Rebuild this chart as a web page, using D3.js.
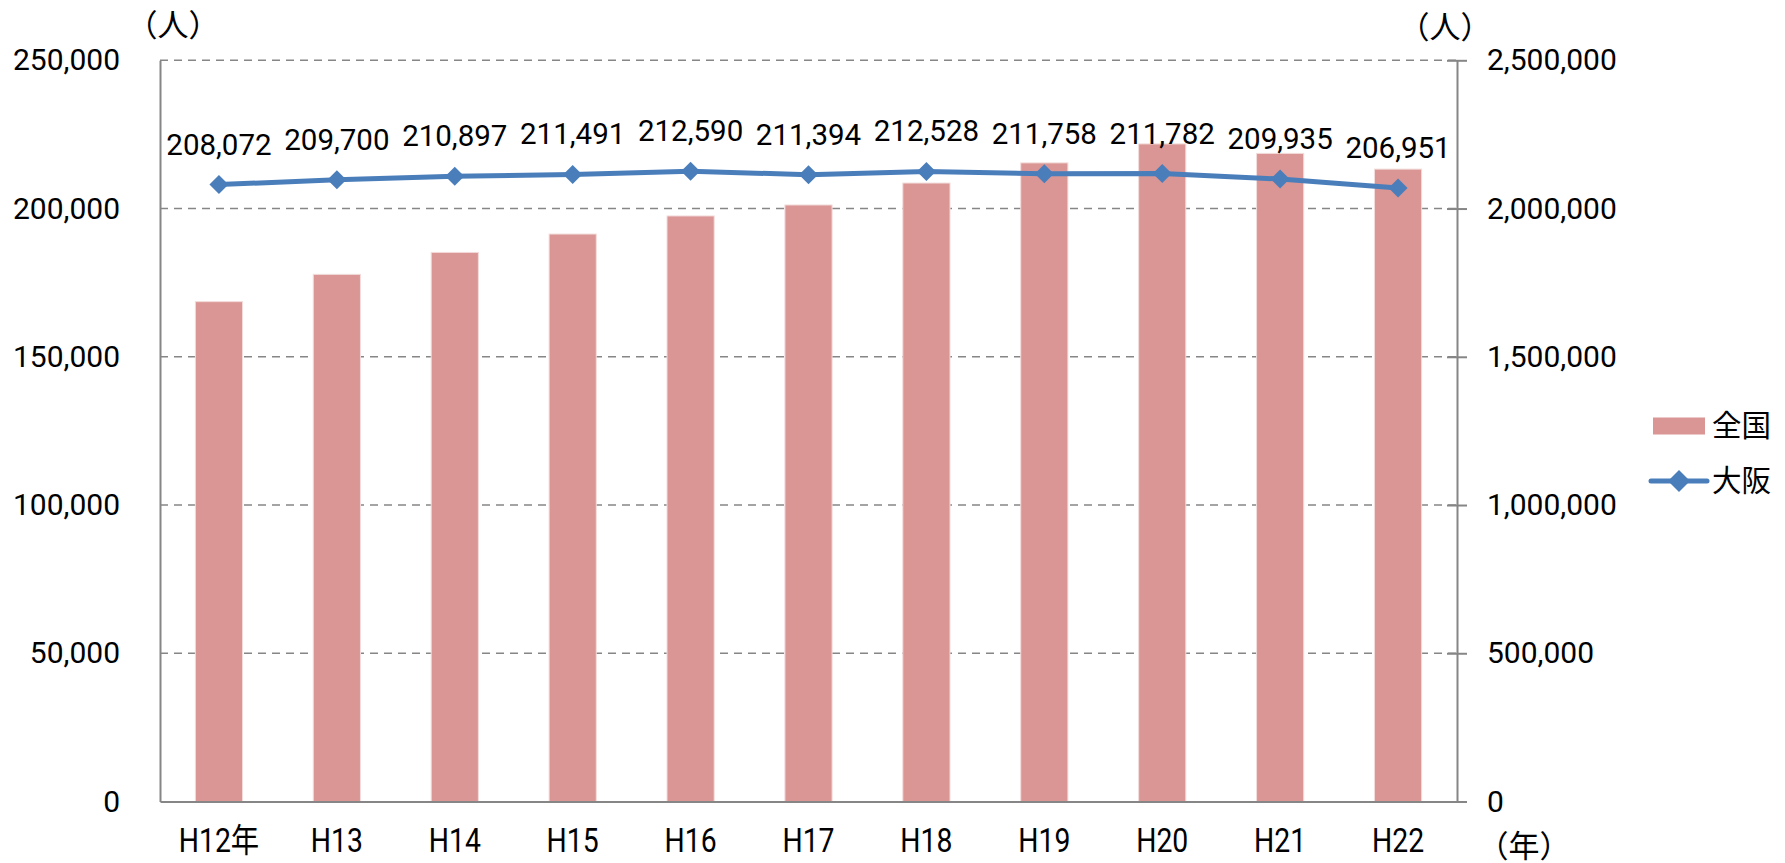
<!DOCTYPE html>
<html>
<head>
<meta charset="utf-8">
<script src="https://cdn.jsdelivr.net/npm/d3@7"></script>
<style>
  body { margin: 0; background: #fff; }
  text { font-family: Roboto, "Noto Sans CJK JP", sans-serif; fill: #000; }
</style>
</head>
<body>
<div id="chart"></div>
<script>
// data
var years = ["H12年", "H13", "H14", "H15", "H16", "H17", "H18", "H19", "H20", "H21", "H22"];
var zenkoku = [1686000, 1778000, 1852000, 1914000, 1975000, 2012000, 2086000, 2154000, 2218000, 2186000, 2133000];
var osaka = [208072, 209700, 210897, 211491, 212590, 211394, 212528, 211758, 211782, 209935, 206951];
var leftTicks = [0, 50000, 100000, 150000, 200000, 250000];
var rightTicks = [0, 500000, 1000000, 1500000, 2000000, 2500000];
var seriesNames = ["全国", "大阪"];

var svgWidth = 1785;
var svgHeight = 863;
var plot = { left: 160, right: 1457, top: 60.3, bottom: 801.5 };

var barColor = "#D99694";
var lineColor = "#4A7EBB";
var axisColor = "#868686";

var svg = d3.select("#chart")
  .append("svg")
  .attr("width", svgWidth)
  .attr("height", svgHeight);
svg.append("rect")
  .attr("width", "100%")
  .attr("height", "100%")
  .attr("fill", "white");

// scales
var xScale = d3.scaleBand()
  .domain(years)
  .range([plot.left, plot.right])
  .paddingInner(0.6)
  .paddingOuter(0.3);

var yLeft = d3.scaleLinear()
  .domain([0, 250000])
  .range([plot.bottom, plot.top]);

var yRight = d3.scaleLinear()
  .domain([0, 2500000])
  .range([plot.bottom, plot.top]);

var fmt = d3.format(",");
var diamond = function(r) { return "M0," + (-r) + "L" + r + ",0L0," + r + "L" + (-r) + ",0Z"; };

// gridlines
svg.append("g")
  .selectAll("line")
  .data(leftTicks.filter(d => d > 0))
  .enter()
  .append("line")
  .attr("x1", plot.left)
  .attr("x2", plot.right)
  .attr("y1", d => yLeft(d))
  .attr("y2", d => yLeft(d))
  .attr("stroke", axisColor)
  .attr("stroke-width", 1.5)
  .attr("stroke-dasharray", "8,6");

// bars (全国, right axis)
svg.append("g")
  .selectAll("rect")
  .data(zenkoku)
  .enter()
  .append("rect")
  .attr("x", (d, i) => xScale(years[i]))
  .attr("width", xScale.bandwidth())
  .attr("y", d => yRight(d))
  .attr("height", d => yRight(0) - yRight(d))
  .attr("fill", barColor)
  .attr("stroke", "#F2DCDB")
  .attr("stroke-width", 1);

// axes
var leftAxis = svg.append("g")
  .attr("transform", `translate(${plot.left},0)`)
  .call(d3.axisLeft(yLeft).tickValues(leftTicks).tickSize(0).tickPadding(40).tickFormat(fmt));

var rightAxis = svg.append("g")
  .attr("transform", `translate(${plot.right},0)`)
  .call(d3.axisRight(yRight).tickValues(rightTicks).tickSizeInner(10).tickSizeOuter(0).tickPadding(20).tickFormat(fmt));
rightAxis.selectAll(".tick line").attr("x1", -10);

var bottomAxis = svg.append("g")
  .attr("transform", `translate(0,${plot.bottom})`)
  .call(d3.axisBottom(xScale).tickSize(0).tickPadding(27));

[leftAxis, rightAxis, bottomAxis].forEach(function(g) {
  g.select(".domain").attr("stroke", axisColor).attr("stroke-width", 2);
  g.selectAll(".tick line").attr("stroke", axisColor).attr("stroke-width", 2);
  g.selectAll("text").attr("font-family", null).attr("font-size", null);
});
leftAxis.selectAll("text").style("font-size", "30px");
rightAxis.selectAll("text").style("font-size", "30px");
bottomAxis.selectAll("text")
  .style("font-size", "33px")
  .attr("transform", "scale(0.86,1)");

// line (大阪, left axis)
var line = d3.line()
  .x((d, i) => xScale(years[i]) + xScale.bandwidth() / 2)
  .y(d => yLeft(d));

svg.append("path")
  .datum(osaka)
  .attr("d", line)
  .attr("fill", "none")
  .attr("stroke", lineColor)
  .attr("stroke-width", 5)
  .attr("stroke-linejoin", "round");

svg.append("g")
  .selectAll("path")
  .data(osaka)
  .enter()
  .append("path")
  .attr("d", diamond(9.5))
  .attr("transform", (d, i) => `translate(${xScale(years[i]) + xScale.bandwidth() / 2},${yLeft(d)})`)
  .attr("fill", lineColor);

// data labels
svg.append("g")
  .selectAll("text")
  .data(osaka)
  .enter()
  .append("text")
  .attr("x", (d, i) => xScale(years[i]) + xScale.bandwidth() / 2)
  .attr("y", d => yLeft(d) - 30)
  .attr("text-anchor", "middle")
  .style("font-size", "29.5px")
  .text(d => fmt(d));

// unit labels
svg.append("text")
  .attr("x", 173).attr("y", 25)
  .attr("text-anchor", "middle")
  .attr("dominant-baseline", "central")
  .style("font-size", "31px")
  .text("（人）");
svg.append("text")
  .attr("x", 1445).attr("y", 27)
  .attr("text-anchor", "middle")
  .attr("dominant-baseline", "central")
  .style("font-size", "31px")
  .text("（人）");
svg.append("text")
  .attr("x", 1524).attr("y", 846)
  .attr("text-anchor", "middle")
  .attr("dominant-baseline", "central")
  .style("font-size", "31px")
  .text("（年）");

// legend
var legend = svg.append("g").attr("transform", "translate(1651,426)");
legend.append("rect")
  .attr("x", 2).attr("y", -8.5)
  .attr("width", 52).attr("height", 17)
  .attr("fill", barColor);
legend.append("line")
  .attr("x1", 0).attr("x2", 56)
  .attr("y1", 55).attr("y2", 55)
  .attr("stroke", lineColor)
  .attr("stroke-width", 5)
  .attr("stroke-linecap", "round");
legend.append("path")
  .attr("d", diamond(11))
  .attr("transform", "translate(28,55)")
  .attr("fill", lineColor);
legend.selectAll("text")
  .data(seriesNames)
  .enter()
  .append("text")
  .attr("x", 61)
  .attr("y", (d, i) => i * 55)
  .attr("dominant-baseline", "central")
  .style("font-size", "29.5px")
  .text(d => d);
</script>
</body>
</html>
